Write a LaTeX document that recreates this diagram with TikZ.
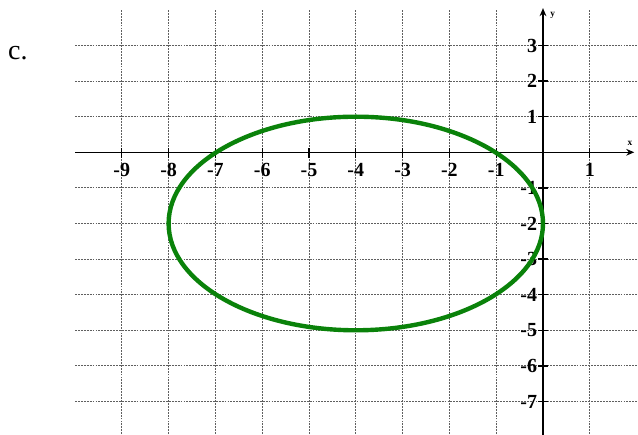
\documentclass[tikz,border=0pt]{standalone}
\usepackage{fontspec}
\setmainfont{Liberation Serif}
\usetikzlibrary{arrows.meta}
\definecolor{ellgreen}{RGB}{10,130,10}
\definecolor{gridgray}{RGB}{95,95,95}

\begin{document}
\begin{tikzpicture}[x=35.1pt,y=26.7pt]
  \useasboundingbox (-11.603,-7.941) rectangle (2.030,4.278);
  % grid
  \foreach \x in {-9,...,-1,1}
    \draw[gridgray, line width=0.75pt, dash pattern=on 1.4pt off 0.8pt] (\x,-8) -- (\x,4);
  \foreach \y in {-7,...,-1,1,2,3}
    \draw[gridgray, line width=0.75pt, dash pattern=on 1.4pt off 0.8pt] (-10,\y) -- (2.05,\y);
  % axes
  \coordinate (xstart) at (-10,0);
  \coordinate (xend) at (1.95,0);
  \coordinate (ystart) at (0,-8);
  \coordinate (yend) at (0,4.05);
  \draw[line width=1.1pt, -{Stealth[length=6pt,width=5pt]}] (xstart) -- (xend);
  \draw[line width=1.1pt, -{Stealth[length=6pt,width=5pt]}] (ystart) -- (yend);
  \node[font=\fontsize{7}{8}\bfseries, inner sep=0pt] (xlab) at (1.86,0.26) {x};
  \node[font=\fontsize{7}{8}\bfseries, inner sep=0pt] (ylab) at (0.21,3.86) {y};
  % ticks and numbers
  \foreach \x in {-9,...,-1,1} {
    \draw[line width=1pt] (\x,0.12) -- (\x,-0.16);
    \node[font=\fontsize{15}{17}\bfseries, inner sep=0pt] (xl\x) at (\x,-0.5) {\x};
  }
  \foreach \y in {-7,...,-1,1,2,3} {
    \draw[line width=1pt] (-0.1,\y) -- (0.1,\y);
    \node[font=\fontsize{15}{17}\bfseries, inner sep=0pt, anchor=east] (yl\y) at (-0.12,\y) {\y};
  }
  % the curve
  \draw[ellgreen, line width=3.3pt] (-4,-2) ellipse [x radius=4, y radius=3];
  \node[font=\rmfamily\fontsize{21}{23}\selectfont, inner sep=0pt] (part) at (-11.22,2.79) {c.};
\end{tikzpicture}
\end{document}
